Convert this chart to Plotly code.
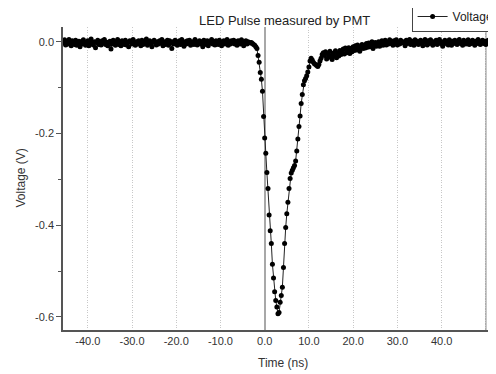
import numpy as np
import plotly.graph_objects as go

# Sampling grid of the scope trace (ns)
T0 = -45.5
DT = 0.25

# Voltage samples in mV
baseline_pre_mv = [
    -3, 4, -7, -1, -5, 5, -2, -9, 2, -1, -6, 3, -8, -3, 1, -11, 0,
    -5, 4, -1, -8, -3, 2, -9, -1, 6, -3, -7, 0, -13, -2, 3, -6, -1,
    -7, 2, -3, 5, -6, -1, -9, -2, 1, -16, -5, 3, -2, -8, 0, 5, -6,
    -1, -9, 2, -3, -6, 3, -7, -2, -11, 2, 0, -5, 5, -3, -8, 0, -5,
    2, -3, -9, 3, -6, -1, -3, 6, -8, -2, 2, -5, -11, 0, 3, -3, -7,
    0, -5, 2, -3, 5, -9, 0, -6, -2, 3, -8, 2, -3, -15, 0, -5, 3,
    -3, -8, 0, 2, -6, 5, -2, -10, 0, -5, 2, -3, 3, -8, -2, 0, -6,
    5, 0, -7, -3, 2, -5, 0, -11, 3, -3, -6, 2, -9, 0, -3, 5, -5,
    0, -7, 2, -3, -6, 3, -2, -9, 0, 2, -5, -3, 5, -8, 0, -5, 2,
    -3, 3, -5, 0, -8, 2, -2, -5, 4, 0, -9, -2, 2, -5, 0, -2, -3,
]
pulse_mv = [
    -2, -4, -6, -8, -11, -15, -30, -45, -67, -82, -108, -163,
    -210, -243, -285, -320, -378, -412, -440, -485, -515, -545, -564, -578,
    -593, -590, -568, -553, -535, -492, -440, -405, -375, -350, -320, -298,
    -286, -280, -275, -270, -260, -238, -212, -185, -162, -135, -115, -94,
    -85, -80, -74, -66, -55, -42, -36, -40, -45, -48, -50, -52,
    -54, -50, -42, -36, -28, -24,
]
tail_mv = [
    -30, -22, -38, -26, -34, -21, -31, -39, -25, -32, -20, -35,
    -25, -31, -19, -28, -23, -16, -27, -14, -24, -20, -13, -26,
    -15, -22, -11, -19, -9, -18, -7, -16, -21, -12, -6, -15,
    -8, -14, -4, -12, -3, -11, -7, 0, -15, -5, -2, -10,
    -6, 0, -10, -4, 2, -8, -3, 3, -7, -1, -5, 4,
    -4, 1, -8, 2, -3, 4, -7, -1, -5, 3, -3, 0,
    -1, -9, 3, -4, 1, 5, -6, -2, 1, -8, 4, -3,
    1, -6, -2, 3, -4, -9, 0, 5, -2, -7, 2, -4,
    4, -2, -8, 0, -4, 3, -6, -1, 5, -4, 0, -10,
    -2, 3, -4, 0, -7, 4, -2, -8, 1, -4, 3, -2,
    -6, 0, 5, -4, -2, -8, 3, 0, -5, -1, 4, -6,
    0, -4, 3, -2, -8, 1, -4, 5, -2, -6, 0, 3,
    -4, 1, -6, -2, 3, -4, 0, -2, -8, 4, -2, -3,
]

x_tick_vals = [-40, -30, -20, -10, 0, 10, 20, 30, 40, 50]
x_tick_text = ["-40.0", "-30.0", "-20.0", "-10.0", "0.0", "10.0", "20.0", "30.0", "40.0", "50.0"]
y_tick_vals = [0.0, -0.2, -0.4, -0.6]
y_tick_text = ["0.0", "-0.2", "-0.4", "-0.6"]

voltage = np.array(baseline_pre_mv + pulse_mv + tail_mv) / 1000.0
time_ns = T0 + DT * np.arange(len(voltage))

FONT = "Liberation Sans, Arial, sans-serif"

# the page body adds an 8px margin; lay out in window pixels
OFF = 8
W, H = 496 - OFF, 374 - OFF
PLOT_L, PLOT_R, PLOT_T, PLOT_B = 62.5, 496, 27, 330   # window pixels
L = PLOT_L - OFF
T = PLOT_T - OFF
R = W - (PLOT_R - OFF)
B = H - (PLOT_B - OFF)
PW, PH = W - L - R, H - T - B


def px_x(px):
    return (px - OFF - L) / PW


def px_y(py):
    return (H - B - (py - OFF)) / PH


fig = go.Figure()
fig.add_trace(go.Scatter(
    x=time_ns, y=voltage, mode="lines+markers", name="Voltage",
    line=dict(color="#222222", width=1),
    marker=dict(color="#000000", size=5, symbol="circle"),
))

# solid reference line at 50
fig.add_shape(type="line", xref="x", yref="paper", x0=50, x1=50, y0=0, y1=1,
              line=dict(color="#a8a8a8", width=1.6), layer="below")

fig.update_layout(
    width=W, height=H,
    margin=dict(l=L, r=R, t=T, b=B, autoexpand=False),
    paper_bgcolor="white", plot_bgcolor="white",
    font=dict(family=FONT, color="#333333", size=11),
    showlegend=True,
    legend=dict(
        x=px_x(411.5), y=px_y(16.5), xanchor="left", yanchor="middle",
        bordercolor="#444444", borderwidth=1, bgcolor="white",
        font=dict(family=FONT, size=12, color="#222222"),
        itemwidth=30, tracegroupgap=0,
    ),
    annotations=[
        dict(text="LED Pulse measured by PMT", xref="paper", yref="paper",
             x=px_x(284), y=px_y(20), xanchor="center", yanchor="middle",
             showarrow=False, font=dict(family=FONT, size=13, color="#222222")),
        dict(text="Time (ns)", xref="paper", yref="paper",
             x=px_x(283), y=px_y(363), xanchor="center", yanchor="middle",
             showarrow=False, font=dict(family=FONT, size=12, color="#333333")),
        dict(text="Voltage (V)", xref="paper", yref="paper",
             x=px_x(20), y=px_y(178), xanchor="center", yanchor="middle",
             textangle=-90, showarrow=False,
             font=dict(family=FONT, size=12, color="#333333")),
    ],
)

fig.update_xaxes(
    range=[-45.6, 52.3], automargin=False,
    tickvals=x_tick_vals, ticktext=x_tick_text,
    showline=True, linecolor="#555555", linewidth=1.5,
    ticks="", showgrid=True, gridcolor="#c8c8c8", griddash="1px,1.5px", gridwidth=1,
    zeroline=True, zerolinecolor="#a8a8a8", zerolinewidth=1.6,
    tickfont=dict(family=FONT, size=11, color="#333333"),
)
fig.update_yaxes(
    range=[-0.6284, 0.032], automargin=False,
    tickvals=y_tick_vals, ticktext=y_tick_text,
    showline=True, linecolor="#555555", linewidth=1.5,
    ticks="outside", ticklen=5, tickcolor="#555555", tickwidth=1,
    minor=dict(tickvals=[-0.1, -0.3, -0.5], ticks="outside", ticklen=3, tickcolor="#555555"),
    showgrid=False, zeroline=False,
    tickfont=dict(family=FONT, size=11, color="#333333"),
)

fig.write_html("out.html")
